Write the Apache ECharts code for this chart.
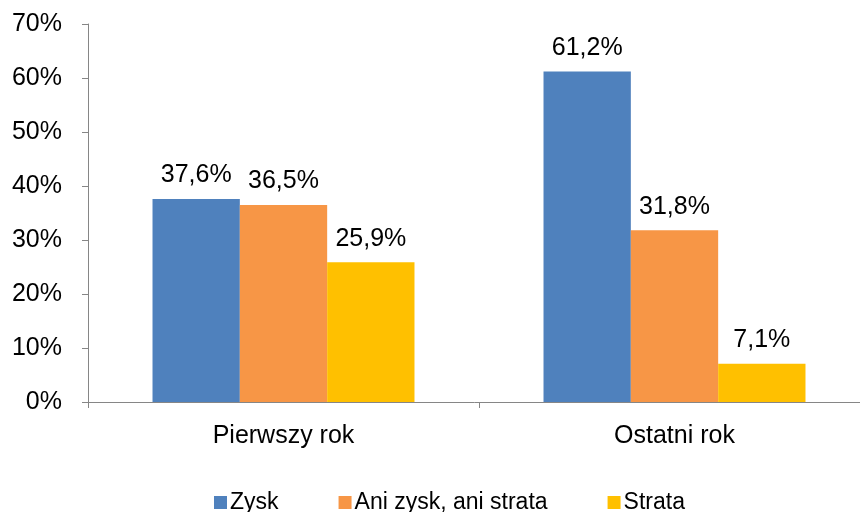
<!DOCTYPE html>
<html><head><meta charset="utf-8">
<script src="https://cdn.jsdelivr.net/npm/echarts@6/dist/echarts.min.js"></script>
<style>html,body{margin:0;padding:0;background:#fff}#c{width:860px;height:512px}</style>
</head><body><div id="c"></div>
<script>
const categories = ['Pierwszy rok', 'Ostatni rok'];
const seriesNames = ['Zysk', 'Ani zysk, ani strata', 'Strata'];
const zysk = [37.6, 61.2];
const ani = [36.5, 31.8];
const strata = [25.9, 7.1];
const colors = ['#4F81BD', '#F79646', '#FFC000'];
const yTicks = [0, 10, 20, 30, 40, 50, 60, 70];

const font = 'Liberation Sans, Arial, sans-serif';
const fmt = v => String(v).replace('.', ',') + '%';
const data = [zysk, ani, strata];
const chart = echarts.init(document.getElementById('c'), null, {renderer: 'canvas'});
chart.setOption({
  animation: false,
  grid: {left: 88, width: 782, top: 24, height: 378, containLabel: false, outerBoundsMode: 'none'},
  legend: {
    top: 486, left: 209, itemGap: 60, itemWidth: 13, itemHeight: 13, icon: 'rect',
    textStyle: {fontFamily: font, fontSize: 23, color: '#000', padding: [0, 0, 0, -2]},
    data: seriesNames
  },
  xAxis: {
    type: 'category', data: categories,
    axisLine: {lineStyle: {color: '#868686'}},
    axisTick: {show: true, length: 6, lineStyle: {color: '#868686'}},
    axisLabel: {fontFamily: font, fontSize: 25, color: '#000', margin: 22}
  },
  yAxis: {
    type: 'value', min: 0, max: 70, interval: 10,
    axisLine: {show: true, lineStyle: {color: '#868686'}},
    axisTick: {show: true, length: 6, lineStyle: {color: '#868686'}},
    splitLine: {show: false},
    axisLabel: {fontFamily: font, fontSize: 25, color: '#000', margin: 26,
      formatter: v => yTicks.includes(v) ? v + '%' : ''}
  },
  series: seriesNames.map((n, i) => ({
    name: n, type: 'bar', data: data[i], barGap: '0%', barCategoryGap: '33%',
    itemStyle: {color: colors[i]},
    label: {show: true, position: 'top', distance: 11, fontFamily: font, fontSize: 25, color: '#000',
      formatter: p => fmt(p.value)}
  }))
});
</script></body></html>
